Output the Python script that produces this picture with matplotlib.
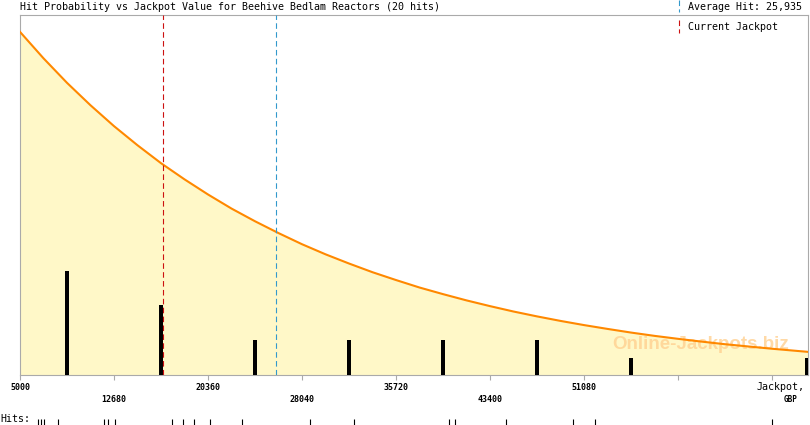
import matplotlib
matplotlib.use("Agg")
import matplotlib.pyplot as plt
from matplotlib.lines import Line2D

W, H = 810, 425
MONO = "DejaVu Sans Mono"

title = "Hit Probability vs Jackpot Value for Beehive Bedlam Reactors (20 hits)"

# jackpot axis, GBP
x_min = 5000
x_max = 69380
major_ticks = [5000, 20360, 35720, 51080, 66440]
major_labels = ["5000", "20360", "35720", "51080", ""]
minor_ticks = [12680, 28040, 43400, 58760]
minor_labels = ["12680", "28040", "43400", ""]

# probability curve (scaled to hit counts)
curve_x = [5000, 6920, 8840, 10760, 12680, 14600, 16520, 18440, 20360,
           22280, 24200, 26120, 28040, 29960, 31880, 33800, 35720, 37640,
           39560, 41480, 43400, 45320, 47240, 49160, 51080, 53000, 54920,
           56840, 58760, 60680, 62600, 64520, 66440, 69380]
curve_y = [19.73, 18.21, 16.80, 15.51, 14.31, 13.21, 12.18, 11.25, 10.38,
           9.57, 8.84, 8.16, 7.52, 6.94, 6.41, 5.91, 5.46, 5.03,
           4.65, 4.29, 3.96, 3.65, 3.37, 3.11, 2.87, 2.65, 2.44,
           2.25, 2.08, 1.92, 1.77, 1.64, 1.51, 1.33]

# hits per band
bar_x = [8840, 16520, 24200, 31880, 39560, 47240, 54920, 69230]
bar_counts = [6, 4, 2, 2, 2, 2, 1, 1]

# individual hit values
hits = [6446, 6716, 6985, 8105, 11863, 12190, 12762, 17419, 18317, 19216,
        20523, 23137, 28693, 32288, 40050, 40540, 44707, 50181, 51979, 66440]

average_hit = 25935
current_jackpot = 16710

fig = plt.figure(figsize=(W / 100, H / 100), dpi=100)
ax = fig.add_axes([20 / W, 50 / H, 788 / W, 360 / H])

ax.fill_between(curve_x, curve_y, 0, color="#fff8c8", lw=0, zorder=1)
ax.plot(curve_x, curve_y, color="#ff8800", lw=1.5, zorder=4)
ax.bar(bar_x, bar_counts, width=250, color="black", zorder=3)

ax.axvline(current_jackpot, color="#cc1111", lw=0.8, dashes=(5, 3), zorder=5)
ax.axvline(average_hit, color="#3399cc", lw=0.8, dashes=(5, 3), zorder=5)

# watermark
ax.text(0.864, 0.085, "Online-Jackpots.biz", transform=ax.transAxes,
        family="Liberation Sans", weight="bold", fontsize=13.5,
        color="#ffd090", alpha=0.8, ha="center", va="center", zorder=2)

ax.set_xlim(x_min, x_max)
ax.set_ylim(0, 20.7)
ax.set_yticks([])
ax.set_xticks(major_ticks)
ax.set_xticklabels(major_labels, family=MONO, fontsize=6, weight="bold")
ax.set_xticks(minor_ticks, minor=True)
ax.set_xticklabels(minor_labels, minor=True, family=MONO, fontsize=6,
                   weight="bold")
ax.tick_params(axis="x", which="major", length=3.6, width=0.8,
               color="#aaaaaa", pad=2)
ax.tick_params(axis="x", which="minor", length=3.6, width=0.8,
               color="#aaaaaa", pad=11)
for s in ax.spines.values():
    s.set_color("#aaaaaa")
    s.set_linewidth(0.8)

ax.text(0.996, -0.02, "Jackpot,", transform=ax.transAxes, family=MONO,
        fontsize=7.2, ha="right", va="top")
ax.text(0.978, -0.055, "GBP", transform=ax.transAxes, family=MONO,
        fontsize=5.5, weight="bold", ha="center", va="top")

# hit markers under the axis
ax.vlines(hits, -0.123, -0.14, transform=ax.get_xaxis_transform(),
          color="black", lw=0.8, clip_on=False)
fig.text(0, 6 / H, "Hits:", family=MONO, fontsize=7.2, ha="left", va="center")

fig.text(20 / W, 1 - 7 / H, title, family=MONO, fontsize=7.2,
         ha="left", va="center")

# legend top right
fig.add_artist(Line2D([679 / W, 679 / W], [1, 1 - 12 / H], color="#3399cc",
                      lw=0.8, dashes=(5, 3)))
fig.add_artist(Line2D([679 / W, 679 / W], [1 - 20 / H, 1 - 33 / H],
                      color="#cc1111", lw=0.8, dashes=(5, 3)))
fig.text(688 / W, 1 - 7 / H, "Average Hit: 25,935", family=MONO,
         fontsize=7.2, ha="left", va="center")
fig.text(688 / W, 1 - 27 / H, "Current Jackpot", family=MONO,
         fontsize=7.2, ha="left", va="center")

fig.savefig("out.png", dpi=100)
